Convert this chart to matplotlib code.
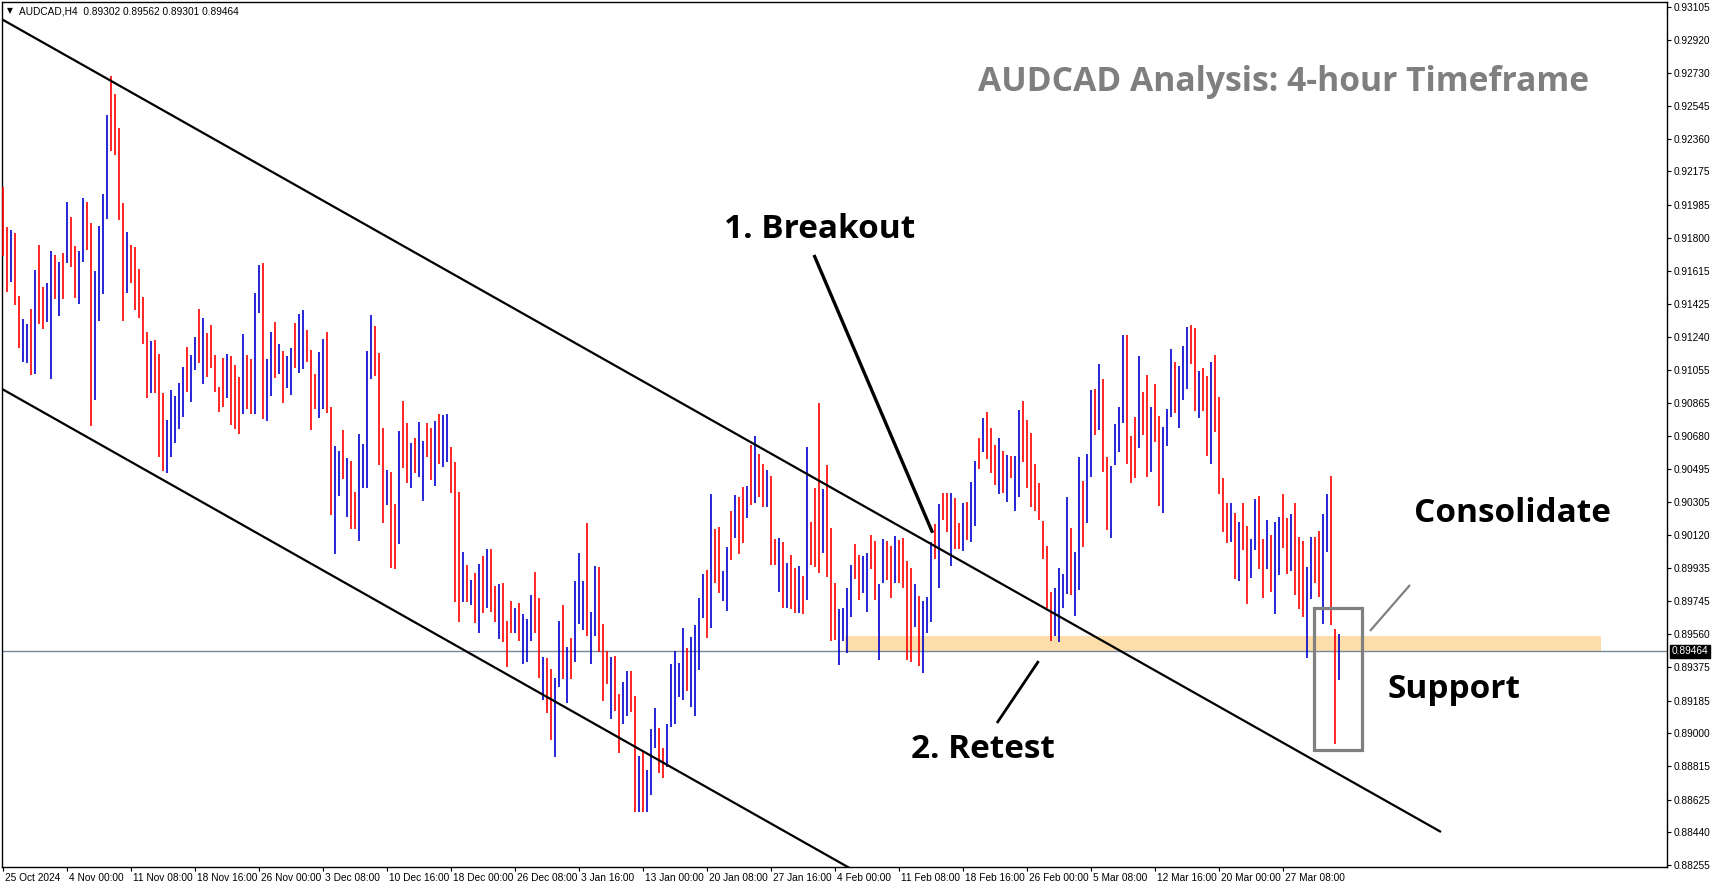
import numpy as np
import matplotlib
matplotlib.use("Agg")
import matplotlib.pyplot as plt
from matplotlib.patches import Rectangle
import matplotlib.transforms as mtransforms

# ---------------- data ----------------
symbol_header = "AUDCAD,H4  0.89302 0.89562 0.89301 0.89464"
chart_title = "AUDCAD Analysis: 4-hour Timeframe"

# bar highs / lows in points (1e-5), one bar per 8 hours, 25 Oct 2024 -> 3 Apr 2025
bar_high_pts = [
    92089, 91863, 91844, 91827, 91471, 91341, 91313, 91398, 91618, 91759,
    91522, 91547, 91725, 91703, 91665, 91716, 92002, 91916, 91756, 91725,
    92027, 92002, 91884, 91614, 91869, 92048, 92494, 92715, 92613, 92419,
    91995, 91831, 91759, 91750, 91624, 91464, 91268, 91217, 91222, 91143,
    90925, 90770, 90940, 90906, 90981, 91072, 91185, 91138, 91241, 91400,
    91349, 91260, 91307, 91138, 90959, 91123, 91143, 91132, 91081, 91015,
    91258, 91138, 91117, 91490, 91648, 91658, 91115, 91268, 91324, 91200,
    91160, 91132, 91179, 91318, 91369, 91392, 91279, 91166, 91032, 91154,
    91230, 91269, 90846, 90623, 90595, 90714, 90554, 90540, 90365, 90693,
    90634, 91160, 91362, 91301, 91147, 90725, 90488, 90474, 90295, 90708,
    90878, 90755, 90638, 90667, 90759, 90651, 90755, 90727, 90766, 90804,
    90798, 90804, 90620, 90533, 90366, 90026, 89951, 89866, 89904, 89957,
    90002, 90040, 90041, 89834, 89844, 89851, 89635, 89748, 89706, 89738,
    89672, 89644, 89781, 89910, 89763, 89429, 89427, 89363, 89310, 89635,
    89725, 89489, 89537, 89861, 90017, 89863, 90190, 89684, 89945, 89938,
    89618, 89465, 89429, 89437, 89220, 89288, 89354, 89354, 89211, 88872,
    88900, 88792, 89024, 89145, 89032, 88919, 89052, 89391, 89465, 89399,
    89593, 89480, 89546, 89612, 89767, 89900, 89923, 90353, 90155, 90168,
    89917, 90051, 90258, 90347, 90338, 90394, 90400, 90630, 90681, 90579,
    90520, 90488, 90454, 90096, 90102, 90080, 89961, 90008, 89933, 89946,
    89891, 90620, 90196, 90388, 90869, 90379, 90517, 90162, 89848, 89701,
    89706, 89820, 89951, 90068, 90008, 90004, 90021, 90121, 90087, 89844,
    90096, 90087, 90061, 90112, 90092, 90101, 89973, 89932, 89843, 89777,
    89747, 89768, 90083, 90181, 90296, 90360, 90356, 90360, 90328, 90186,
    90303, 90309, 90418, 90539, 90670, 90783, 90817, 90723, 90629, 90667,
    90595, 90572, 90567, 90567, 90827, 90878, 90770, 90695, 90520, 90412,
    90199, 90058, 89800, 89823, 89932, 89898, 90337, 90158, 90026, 90563,
    90426, 90578, 90940, 90944, 91087, 91000, 90563, 90510, 90748, 90846,
    91251, 91251, 90680, 90786, 91133, 90931, 91025, 90842, 90974, 90793,
    90733, 90831, 91172, 91101, 91076, 91189, 91298, 91308, 91293, 91050,
    91067, 91019, 91101, 91138, 90903, 90445, 90300, 90300, 90243, 90196,
    90300, 90174, 90096, 90324, 90341, 90098, 90206, 90121, 90196, 90224,
    90353, 90215, 90240, 90304, 90111, 90087, 89942, 90111, 90111, 90143,
    90238, 90351, 90456, 89588, 89562,
]
bar_low_pts = [
    91697, 91496, 91552, 91420, 91179, 91100, 91094, 91023, 91028, 91313,
    91283, 91326, 91000, 91454, 91360, 91452, 91660, 91637, 91462, 91426,
    91665, 91731, 90737, 90883, 91332, 91481, 91906, 92293, 92268, 91900,
    91332, 91490, 91543, 91392, 91349, 91200, 90897, 90921, 90921, 90560,
    90480, 90470, 90560, 90640, 90720, 90790, 90930, 90874, 91053, 91094,
    90972, 91015, 91062, 90930, 90814, 90846, 90896, 90742, 90719, 90691,
    90804, 90832, 90804, 90802, 91377, 90776, 90765, 90908, 91009, 91028,
    90868, 90949, 90911, 91062, 91038, 91058, 91100, 90714, 90830, 90783,
    90830, 90812, 90233, 90013, 90341, 90435, 90224, 90152, 90152, 90088,
    90384, 90384, 91002, 91021, 90516, 90190, 90290, 89932, 89926, 90067,
    90501, 90416, 90388, 90469, 90450, 90314, 90559, 90431, 90399, 90520,
    90506, 90535, 90360, 89744, 89631, 89744, 89744, 89725, 89625, 89565,
    89682, 89706, 89687, 89631, 89535, 89518, 89376, 89569, 89569, 89523,
    89390, 89401, 89521, 89565, 89310, 89188, 89116, 88962, 88864, 89263,
    89305, 89173, 89307, 89405, 89616, 89584, 89552, 89390, 89550, 89461,
    89184, 89277, 89079, 89126, 88890, 89050, 89099, 89122, 88553, 88557,
    88557, 88557, 88651, 88919, 88773, 88745, 88807, 89037, 89050, 89207,
    89188, 89236, 89150, 89100, 89358, 89654, 89541, 89597, 89852, 89791,
    89748, 89693, 89980, 90102, 90014, 90074, 90219, 90291, 90300, 90338,
    90281, 90281, 89951, 89951, 89797, 89710, 89710, 89701, 89678, 89678,
    89673, 89754, 89951, 89938, 89908, 90017, 89885, 89522, 89528, 89386,
    89522, 89456, 89659, 89870, 89754, 89791, 89684, 89927, 89754, 89414,
    89852, 89867, 89767, 89848, 89851, 89819, 89414, 89400, 89602, 89380,
    89340, 89565, 89631, 89983, 89819, 90205, 90139, 89945, 90039, 90039,
    90030, 90092, 90079, 90171, 90493, 90591, 90550, 90473, 90403, 90352,
    90356, 90309, 90444, 90258, 90337, 90535, 90384, 90280, 90258, 90205,
    89983, 89706, 89521, 89550, 89514, 89710, 89785, 89781, 89664, 89809,
    90051, 90186, 90446, 90686, 90714, 90478, 90149, 90101, 90516, 90591,
    90751, 90520, 90413, 90445, 90614, 90686, 90447, 90479, 90648, 90287,
    90243, 90624, 90790, 90812, 90724, 90884, 90946, 91085, 90824, 90784,
    90824, 90567, 90520, 90705, 90351, 90136, 90074, 90083, 89872, 89863,
    90036, 89729, 89880, 90036, 89927, 89767, 89927, 89797, 89672, 89895,
    90045, 89900, 89919, 89782, 89701, 89659, 89424, 89757, 89848, 89772,
    89618, 90023, 89612, 88940, 89301,
]
# B = bullish (blue), R = bearish (red)
bar_dir = ("RRBRRBBRBR" "RBBRBRBRRB" "BRRBBBBRRR" "RBRRRRRBRR" "RBBBBBRBBR"
           "BRRRRRBRRR" "BRRBBRBBRB" "RBBRBBRRRB" "BRRBBRBRRB" "BBBRRRBRRB"
           "RRBRBBRRBR" "BBRRRBRBRB" "RBRRBRRRBR" "BBBRRBRRBB" "RBRBBBRBBR"
           "RRBRRBBRRB" "RBBBRRBBBB" "BRBBBBRBRR" "BBRBRRBRBR" "RBRRBRBRRB"
           "RBRRRBRRRB" "BBBRRBBRRB" "BRRBRRRRBR" "BBBRBRRBRR" "BRBBRBRRRB"
           "RBRBBRRRRR" "RRRBBBBRBB" "RBBRBRRBBB" "BRRRBRRBRR" "BBBRBBBRRB"
           "RRBRRRRBRB" "RRBBRRBRBB" "RRBRRRBBRR" "BBRRB")

x_tick_pos = [0, 16, 32, 48, 64, 80, 96, 112, 128, 144, 160, 176, 192, 208,
              224, 240, 256, 272, 288, 304, 320]
x_tick_labels = ["25 Oct 2024", "4 Nov 00:00", "11 Nov 08:00", "18 Nov 16:00",
                 "26 Nov 00:00", "3 Dec 08:00", "10 Dec 16:00", "18 Dec 00:00",
                 "26 Dec 08:00", "3 Jan 16:00", "13 Jan 00:00", "20 Jan 08:00",
                 "27 Jan 16:00", "4 Feb 00:00", "11 Feb 08:00", "18 Feb 16:00",
                 "26 Feb 00:00", "5 Mar 08:00", "12 Mar 16:00", "20 Mar 00:00",
                 "27 Mar 08:00"]
y_tick_labels = ["0.93105", "0.92920", "0.92730", "0.92545", "0.92360", "0.92175",
                 "0.91985", "0.91800", "0.91615", "0.91425", "0.91240", "0.91055",
                 "0.90865", "0.90680", "0.90495", "0.90305", "0.90120", "0.89935",
                 "0.89745", "0.89560", "0.89375", "0.89185", "0.89000", "0.88815",
                 "0.88625", "0.88440", "0.88255"]

last_price = 0.89464
price_range = (0.88244, 0.93133)
bar_range = (-0.25, 416.0)

# annotation geometry (bar index, price)
upper_channel = ([-0.25, 359.5], [0.93035, 0.88442])
lower_channel = ([-0.25, 240.0], [0.90946, 0.87876])
breakout_arrow = ([202.75, 232.4], [0.91703, 0.90133])
retest_arrow = ([248.5, 258.9], [0.89058, 0.89408])
consolidate_arrow = ([341.75, 351.75], [0.89578, 0.89838])
support_zone_x = (210.5, 399.5)
support_zone_y = (0.89458, 0.89550)
consol_box_x = (327.75, 339.75)
consol_box_y = (0.88905, 0.89708)

# ---------------- figure ----------------
W, H = 1714, 888
fig = plt.figure(figsize=(W / 100, H / 100), dpi=100)
fig.patch.set_facecolor("white")
ax = fig.add_axes([2 / W, 21 / H, 1665 / W, 865 / H])
ax.set_xlim(*bar_range)
ax.set_ylim(*price_range)

n = len(bar_high_pts)
assert len(bar_low_pts) == n and len(bar_dir) == n
xs = np.arange(n)
highs = np.array(bar_high_pts) / 1e5
lows = np.array(bar_low_pts) / 1e5
cmap = {"B": "#0000D0", "R": "#FF0000"}
cols = [cmap[c] for c in bar_dir]

# support zone (behind bars)
ax.add_patch(Rectangle((support_zone_x[0], support_zone_y[0]),
                       support_zone_x[1] - support_zone_x[0],
                       support_zone_y[1] - support_zone_y[0],
                       facecolor="#FDDEAA", edgecolor="none", zorder=1))

ax.vlines(xs, lows, highs, colors=cols, linewidth=1.2, antialiased=True, zorder=3)

ax.axhline(last_price, color="#778899", lw=1.0, zorder=2)

# channel lines
ax.plot(*upper_channel, color="black", lw=1.6, zorder=4, solid_capstyle="butt")
ax.plot(*lower_channel, color="black", lw=1.6, zorder=4, solid_capstyle="butt")
ax.plot(*breakout_arrow, color="black", lw=2.4, zorder=5, solid_capstyle="butt")
ax.plot(*retest_arrow, color="black", lw=2.0, zorder=5, solid_capstyle="butt")
ax.plot(*consolidate_arrow, color="#808080", lw=1.6, zorder=5, solid_capstyle="butt")
ax.add_patch(Rectangle((consol_box_x[0], consol_box_y[0]),
                       consol_box_x[1] - consol_box_x[0],
                       consol_box_y[1] - consol_box_y[0],
                       facecolor="none", edgecolor="#808080", lw=2.3, zorder=5))

# axes styling
for s in ax.spines.values():
    s.set_color("black")
    s.set_linewidth(1.0)
ax.yaxis.tick_right()
ax.set_yticks([float(v) for v in y_tick_labels])
ax.set_yticklabels(y_tick_labels)
ax.set_xticks(x_tick_pos)
ax.set_xticklabels(x_tick_labels, ha="left")
ax.tick_params(axis="y", direction="out", length=3, width=0.8, pad=2,
               labelsize=7.3, labelfontfamily="Liberation Sans")
ax.tick_params(axis="x", direction="out", length=3, width=0.8, pad=1,
               labelsize=7.3, labelfontfamily="Liberation Sans")
for lab in ax.get_xticklabels():
    lab.set_transform(lab.get_transform() + mtransforms.ScaledTranslation(2 / 100, 0, fig.dpi_scale_trans))

# current price tag
tag_tr = mtransforms.blended_transform_factory(ax.transAxes, ax.transData)
ax.text(1.003, last_price, "0.89464", transform=tag_tr, ha="left", va="center",
        fontsize=7.3, family="Liberation Sans", color="white", clip_on=False,
        bbox=dict(boxstyle="square,pad=0.15", facecolor="black", edgecolor="black"))

# header
fig.text(7 / W, 1 - 11 / H, "\u25BC", fontsize=5.5, va="center", ha="left", family="DejaVu Sans")
fig.text(19 / W, 1 - 11 / H, symbol_header, fontsize=7.3, va="center", ha="left",
         family="Liberation Sans")

# title and annotations
fig.text(1284 / W, 1 - 82 / H, chart_title, fontsize=24.2, fontweight="bold",
         color="#7F7F7F", ha="center", va="center", family="Open Sans")
lab_kw = dict(fontsize=24, fontweight="bold", color="black", ha="center",
              va="center", family="Open Sans")
fig.text(820 / W, 1 - 229 / H, "1. Breakout", **lab_kw)
fig.text(983 / W, 1 - 749 / H, "2. Retest", **lab_kw)
fig.text(1512 / W, 1 - 513 / H, "Consolidate", **lab_kw)
fig.text(1454 / W, 1 - 690 / H, "Support", **lab_kw)

fig.savefig("out.png", dpi=100, facecolor="white")
